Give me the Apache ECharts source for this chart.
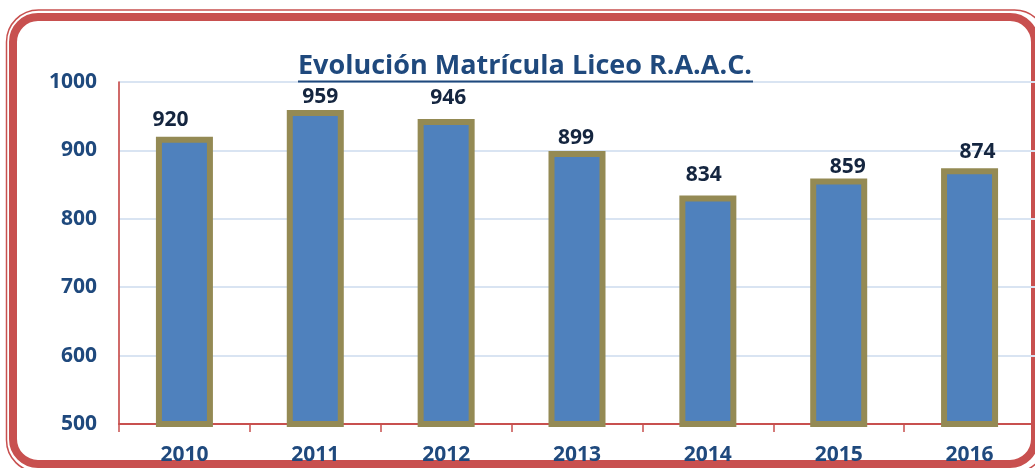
<!DOCTYPE html>
<html>
<head>
<meta charset="utf-8">
<script src="https://cdn.jsdelivr.net/npm/echarts@6/dist/echarts.min.js"></script>
<style>
  html, body, #main {
    width: 1035px;
    height: 468px;
    margin: 0;
    background: #fff;
  }
</style>
</head>
<body>
<div id="main"></div>
<script>
  var years = ['2010', '2011', '2012', '2013', '2014', '2015', '2016'];
  var matricula = [920, 959, 946, 899, 834, 859, 874];
  var yTicks = [500, 600, 700, 800, 900, 1000];

  // label nudges so the numbers sit like in the original sheet
  var labelShift = [[-14, -6], [5, -3], [2, -10], [-1, -3], [-4, -10], [9, -1], [8, -6]];

  var blue = '#1F497D';
  var red = '#C8504F';
  var font = 'Open Sans';

  var chart = echarts.init(document.getElementById('main'));

  var data = matricula.map(function (v, i) {
    return {
      value: v,
      label: { offset: labelShift[i] }
    };
  });

  var option = {
    animation: false,
    backgroundColor: '#fff',
    grid: { left: 119, top: 82, width: 923, height: 342 },
    graphic: [
      {
        type: 'rect', z: -10,
        shape: { x: 6.5, y: 10, width: 1040, height: 462, r: 32 },
        style: { fill: 'none', stroke: red, lineWidth: 1.5 }
      },
      {
        type: 'rect', z: -10,
        shape: { x: 13, y: 17, width: 1022, height: 447, r: 25 },
        style: { fill: 'none', stroke: red, lineWidth: 8 }
      },
      {
        type: 'text', z: 10,
        style: {
          x: 525, y: 66,
          text: 'Evolución Matrícula Liceo R.A.A.C.',
          fill: blue,
          font: 'bold 27px ' + font,
          textAlign: 'center',
          textVerticalAlign: 'middle'
        }
      },
      {
        type: 'line', z: 10,
        shape: { x1: 298, y1: 81.5, x2: 753, y2: 81.5 },
        style: { stroke: blue, lineWidth: 2 }
      }
    ],
    xAxis: {
      type: 'category',
      data: years,
      axisLine: { lineStyle: { color: red, width: 2 } },
      axisTick: { show: true, length: 8, interval: 0, lineStyle: { color: red, width: 1.5 } },
      axisLabel: {
        margin: 21,
        color: blue,
        fontFamily: font,
        fontWeight: 'bold',
        fontSize: 21
      }
    },
    yAxis: {
      type: 'value',
      min: yTicks[0],
      max: yTicks[yTicks.length - 1],
      interval: 100,
      axisLine: { show: true, lineStyle: { color: red, width: 1.7 } },
      axisTick: { show: false },
      splitLine: { lineStyle: { color: '#D9E4F2', width: 2 } },
      axisLabel: {
        margin: 22,
        color: blue,
        fontFamily: font,
        fontWeight: 'bold',
        fontSize: 21,
        formatter: function (v) { return String(v); }
      }
    },
    series: [{
      type: 'bar',
      data: data,
      barWidth: 57,
      itemStyle: {
        color: '#4F81BD',
        borderColor: '#948A54',
        borderWidth: 6
      },
      label: {
        show: true,
        position: 'top',
        distance: 0,
        color: '#14253F',
        fontFamily: font,
        fontWeight: 'bold',
        fontSize: 21
      }
    }]
  };

  chart.setOption(option);
</script>
</body>
</html>
